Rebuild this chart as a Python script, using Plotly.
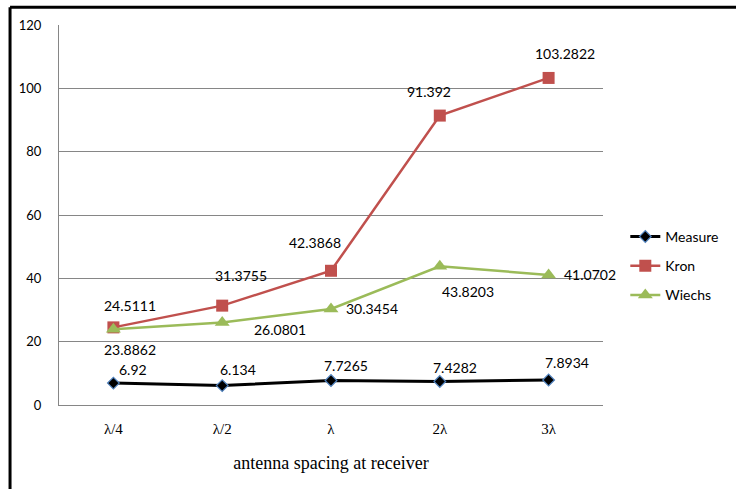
import plotly.graph_objects as go

# Antenna spacing categories and per-model values
spacing = ["λ/4", "λ/2", "λ", "2λ", "3λ"]
measure = [6.92, 6.134, 7.7265, 7.4282, 7.8934]
kron = [24.5111, 31.3755, 42.3868, 91.392, 103.2822]
wiechs = [23.8862, 26.0801, 30.3454, 43.8203, 41.0702]

# Label offsets (px) relative to each point
measure_off = [(20, 14), (16, 16), (15, 15), (15, 14), (18, 18)]
kron_off = [(17, 22), (19, 30), (-16, 28), (-11, 24), (16, 24)]
wiechs_off = [(17, -20), (58, -7), (41, 0), (28, -25), (41, 0)]

SANS = "Lato"
SERIF = "Liberation Serif"

fig = go.Figure()
fig.add_trace(go.Scatter(
    x=spacing, y=measure, name="Measure", mode="lines+markers", legendgroup="m",
    line=dict(color="black", width=3),
    marker=dict(symbol="diamond", size=9, color="black",
                line=dict(color="#4F81BD", width=1.2)),
))
fig.add_trace(go.Scatter(
    x=spacing, y=kron, name="Kron", mode="lines+markers", legendgroup="k",
    line=dict(color="#C0504D", width=2.5),
    marker=dict(symbol="square", size=12, color="#C0504D"),
))
fig.add_trace(go.Scatter(
    x=spacing, y=wiechs, name="Wiechs", mode="lines+markers", legendgroup="w",
    line=dict(color="#9BBB59", width=2.5),
    marker=dict(symbol="triangle-up", size=13, color="#9BBB59"),
))

annotations = []
for vals, offs in ((measure, measure_off), (kron, kron_off), (wiechs, wiechs_off)):
    for cat, v, (dx, dy) in zip(spacing, vals, offs):
        annotations.append(dict(
            x=cat, y=v, text=str(v), showarrow=False,
            xshift=dx, yshift=dy, font=dict(family=SANS, size=14, color="black"),
        ))

# Thick frame along the top and left edges
shapes = [
    dict(type="line", xref="paper", yref="paper", x0=-0.09, x1=1.25,
         y0=1.047, y1=1.047, line=dict(color="black", width=3)),
    dict(type="line", xref="paper", yref="paper", x0=-0.09, x1=-0.09,
         y0=1.047, y1=-0.25, line=dict(color="black", width=3)),
]

fig.update_layout(
    width=736, height=489,
    margin=dict(l=59, r=122, t=25, b=84),
    paper_bgcolor="white", plot_bgcolor="white",
    showlegend=True,
    legend=dict(x=1.041, y=0.366, xanchor="left", yanchor="middle",
                font=dict(family=SANS, size=14, color="black"),
                tracegroupgap=8, itemwidth=30, bgcolor="rgba(0,0,0,0)"),
    annotations=annotations,
    shapes=shapes,
    xaxis=dict(
        type="category", range=[-0.5, 4.5], showgrid=False,
        showline=True, linecolor="#868686", linewidth=1, ticks="",
        tickfont=dict(family=SERIF, size=15, color="black"),
        ticklabelstandoff=10,
        title=dict(text="antenna spacing at receiver",
                   font=dict(family=SERIF, size=18, color="black"), standoff=20),
    ),
    yaxis=dict(
        range=[0, 120], dtick=20, showgrid=True, gridcolor="#868686", gridwidth=1,
        showline=True, linecolor="#868686", linewidth=1, ticks="",
        zeroline=False,
        tickfont=dict(family=SANS, size=13, color="black"),
        ticklabelstandoff=14,
    ),
)

fig.write_html("out.html")
